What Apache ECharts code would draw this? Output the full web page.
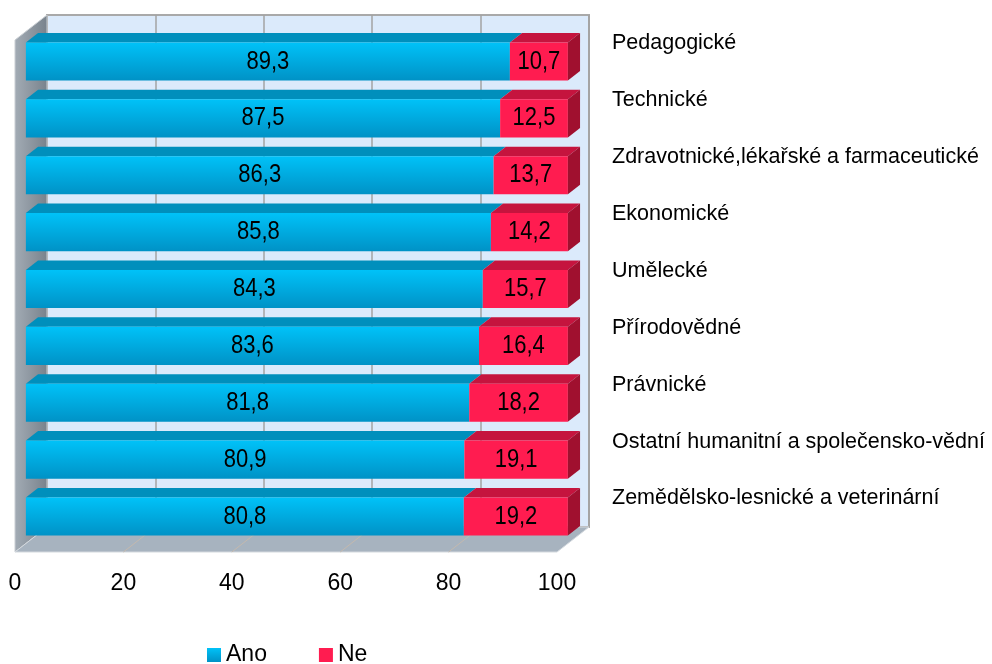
<!DOCTYPE html>
<html>
<head>
<meta charset="utf-8">
<script src="https://cdn.jsdelivr.net/npm/echarts@6/dist/echarts.min.js"></script>
<style>
  html, body { margin: 0; padding: 0; background: #fff; }
  #main { width: 992px; height: 664px; }
</style>
</head>
<body>
<div id="main"></div>
<script>
// data
const categories = [
  'Pedagogické',
  'Technické',
  'Zdravotnické,lékařské a farmaceutické',
  'Ekonomické',
  'Umělecké',
  'Přírodovědné',
  'Právnické',
  'Ostatní humanitní a společensko-vědní',
  'Zemědělsko-lesnické a veterinární'
];
const ano = [89.3, 87.5, 86.3, 85.8, 84.3, 83.6, 81.8, 80.9, 80.8];
const ne = [10.7, 12.5, 13.7, 14.2, 15.7, 16.4, 18.2, 19.1, 19.2];
const ticks = [0, 20, 40, 60, 80, 100];

const FONT = '"Liberation Sans", Arial, sans-serif';

// depth of the box and of the bars (pixels)
const DX = 32, DY = -25;
const B1 = 0.34, B2 = 0.72;

const blueFront = new echarts.graphic.LinearGradient(0, 0, 0, 1, [
  { offset: 0, color: '#00c2f8' },
  { offset: 1, color: '#0092c6' }
]);
const blueTop = '#008fbc';
const redFront = '#ff1c50';
const redTop = '#c5143e';
const redSide = '#a0102f';

const fmt = v => v.toFixed(1).replace('.', ',');

function renderWalls(params, api) {
  const cs = params.coordSys;
  const x = cs.x, y = cs.y, w = cs.width, h = cs.height;
  const children = [];
  // left wall
  children.push({
    type: 'polygon',
    shape: { points: [[x, y], [x + DX, y + DY], [x + DX, y + h + DY], [x, y + h]] },
    style: {
      fill: new echarts.graphic.LinearGradient(0, 0, 1, 0, [
        { offset: 0, color: '#a3acb5' },
        { offset: 1, color: '#78828c' }
      ]),
      stroke: '#c9ced3', lineWidth: 1
    }
  });
  // floor
  children.push({
    type: 'polygon',
    shape: { points: [[x, y + h], [x + w, y + h], [x + w + DX, y + h + DY], [x + DX, y + h + DY]] },
    style: { fill: '#a7b3bf', stroke: '#d4d9de', lineWidth: 1 }
  });
  ticks.slice(1, -1).forEach(t => {
    const px = api.coord([t, 0])[0];
    children.push({
      type: 'line',
      shape: { x1: px, y1: y + h, x2: px + DX, y2: y + h + DY },
      style: { stroke: '#c4b9ae', lineWidth: 1 }
    });
  });
  return { type: 'group', children };
}

function makeBar(isLast) {
  return function (params, api) {
    const cat = api.value(2);
    const s = api.coord([api.value(0), cat]);
    const e = api.coord([api.value(1), cat]);
    const band = api.size([0, 1])[1];
    const hh = band * 0.67;
    const ox1 = DX * B1, oy1 = DY * B1;
    const ddx = DX * (B2 - B1), ddy = DY * (B2 - B1);
    const xs = s[0] + ox1, xe = e[0] + ox1;
    const yt = s[1] + oy1 - hh / 2 + 1.5, yb = yt + hh;
    const children = [
      {
        type: 'polygon',
        shape: { points: [[xs, yt], [xe, yt], [xe + ddx, yt + ddy], [xs + ddx, yt + ddy]] },
        style: { fill: isLast ? redTop : blueTop }
      },
      {
        type: 'rect',
        shape: { x: xs, y: yt, width: xe - xs, height: hh },
        style: { fill: isLast ? redFront : blueFront }
      }
    ];
    if (isLast) {
      children.push({
        type: 'polygon',
        shape: { points: [[xe, yt], [xe + ddx, yt + ddy], [xe + ddx, yb + ddy], [xe, yb]] },
        style: { fill: redSide }
      });
    }
    children.push({
      type: 'text',
      x: (xs + xe) / 2, y: (yt + yb) / 2,
      scaleY: 1.18,
      style: {
        text: fmt(api.value(1) - api.value(0)),
        x: 0, y: 0,
        align: 'center', verticalAlign: 'middle',
        font: '22px ' + FONT, fill: '#000'
      }
    });
    return { type: 'group', children };
  };
}

const chart = echarts.init(document.getElementById('main'));
chart.setOption({
  animation: false,
  backgroundColor: '#fff',
  grid: [
    { left: 15, top: 40, width: 542, height: 512, outerBoundsMode: 'none', containLabel: false },
    { left: 47, top: 15, width: 542, height: 512, show: true, outerBoundsMode: 'none', containLabel: false,
      backgroundColor: '#dbeafb', borderColor: '#a9a9a9', borderWidth: 2 }
  ],
  xAxis: [
    {
      gridIndex: 0, type: 'value', min: 0, max: 100, interval: 20,
      axisLine: { show: false }, axisTick: { show: false }, splitLine: { show: false },
      axisLabel: { margin: 20, fontSize: 23, fontFamily: FONT, color: '#000' }
    },
    {
      gridIndex: 1, type: 'value', min: 0, max: 100, interval: 20,
      axisLine: { show: false }, axisTick: { show: false }, axisLabel: { show: false },
      splitLine: { show: true, lineStyle: { color: '#a3a3a3', width: 1.5 } }
    }
  ],
  yAxis: [
    {
      gridIndex: 0, type: 'category', data: categories, inverse: true,
      axisLine: { show: false }, axisTick: { show: false }, axisLabel: { show: false }
    },
    {
      gridIndex: 1, type: 'category', data: categories, inverse: true, position: 'right',
      axisLine: { show: false }, axisTick: { show: false },
      axisLabel: { margin: 23, fontSize: 21.5, fontFamily: FONT, color: '#000', align: 'left' }
    }
  ],
  legend: {
    left: 207, top: 642, padding: 0,
    icon: 'rect', itemWidth: 14, itemHeight: 14, itemGap: 52,
    textStyle: { fontSize: 23, fontFamily: FONT, color: '#000', lineHeight: 26 },
    data: [
      { name: 'Ano', itemStyle: { color: blueFront } },
      { name: 'Ne', itemStyle: { color: redFront } }
    ]
  },
  series: [
    {
      name: 'walls', type: 'custom', xAxisIndex: 0, yAxisIndex: 0, z: 1,
      silent: true, renderItem: renderWalls, data: [[0, 0]]
    },
    {
      name: 'Ano', type: 'custom', xAxisIndex: 0, yAxisIndex: 0, z: 3,
      itemStyle: { color: blueFront },
      encode: { x: [0, 1], y: 2 },
      renderItem: makeBar(false),
      data: categories.map((c, i) => [0, ano[i], i])
    },
    {
      name: 'Ne', type: 'custom', xAxisIndex: 0, yAxisIndex: 0, z: 3,
      itemStyle: { color: redFront },
      encode: { x: [0, 1], y: 2 },
      renderItem: makeBar(true),
      data: categories.map((c, i) => [ano[i], ano[i] + ne[i], i])
    }
  ]
});
</script>
</body>
</html>
